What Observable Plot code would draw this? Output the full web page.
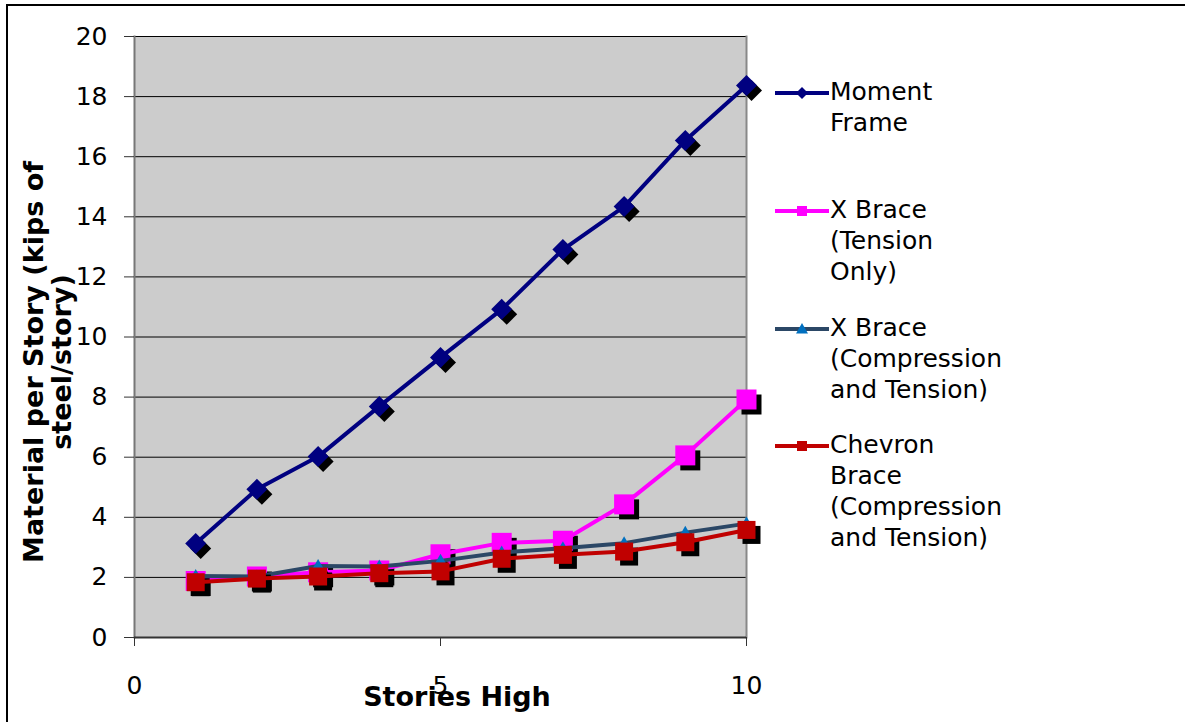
<!DOCTYPE html>
<html>
<head>
<meta charset="utf-8">
<script src="https://cdn.jsdelivr.net/npm/d3@7"></script>
<script src="https://cdn.jsdelivr.net/npm/@observablehq/plot@0.6"></script>
<style>
  html, body { margin: 0; padding: 0; background: #fff; }
  #wrap { position: relative; width: 1185px; height: 722px; overflow: hidden; font-family: "DejaVu Sans", Verdana, sans-serif; }
  #border { position: absolute; left: 6px; top: 4px; right: -10px; bottom: -10px; border-left: 2px solid #000; border-top: 2px solid #000; pointer-events: none; }
  #chart { position: absolute; left: 0; top: 0; }
  .xtitle { position: absolute; left: 457px; top: 681px; transform: translateX(-50%); font-weight: bold; font-size: 27px; white-space: nowrap; }
  .ytitle { position: absolute; left: 48px; top: 362px; transform: translate(-50%, -50%) rotate(-90deg); font-weight: bold; font-size: 27px; line-height: 28px; text-align: center; white-space: nowrap; }
  #legend { position: absolute; left: 775px; top: 0; }
  .item { position: absolute; left: 0; display: flex; align-items: flex-start; }
  .item svg { flex: none; margin-top: 2px; }
  .item div { margin-left: 1px; font-size: 25px; line-height: 31px; white-space: nowrap; }
</style>
</head>
<body>
<div id="wrap">
  <div id="chart"></div>
  <div class="ytitle">Material per Story (kips of<br>steel/story)</div>
  <div class="xtitle">Stories High</div>
  <div id="legend"></div>
  <div id="border"></div>
</div>
<script>
// Number of stories in each design
const stories = [1, 2, 3, 4, 5, 6, 7, 8, 9, 10];

// Steel weight per story (kips of steel / story) for each lateral system
const momentFrame       = [3.13, 4.93, 6.02, 7.69, 9.32, 10.92, 12.91, 14.34, 16.54, 18.37];
const xBraceTension     = [1.88, 2.03, 2.17, 2.23, 2.77, 3.15, 3.22, 4.43, 6.06, 7.92];
const xBraceCompTension = [2.05, 2.03, 2.38, 2.36, 2.55, 2.83, 2.97, 3.14, 3.49, 3.79];
const chevronBrace      = [1.84, 1.96, 2.03, 2.14, 2.20, 2.62, 2.75, 2.86, 3.17, 3.58];

// Axis ticks
const xTicks = [0, 5, 10];
const yTicks = [0, 2, 4, 6, 8, 10, 12, 14, 16, 18, 20];

// Legend wording (line-wrapped as displayed)
const seriesNames = [
  ["Moment", "Frame"],
  ["X Brace", "(Tension", "Only)"],
  ["X Brace", "(Compression", "and Tension)"],
  ["Chevron", "Brace", "(Compression", "and Tension)"]
];

// Marker shapes; Plot hands draw() an area of π·r², so r is recovered as the half-extent
const radius = size => Math.sqrt(size / Math.PI);
const diamondSym = { draw(c, size) { const r = radius(size); c.moveTo(0, -r); c.lineTo(r, 0); c.lineTo(0, r); c.lineTo(-r, 0); c.closePath(); } };
const squareSym  = { draw(c, size) { const r = radius(size); c.rect(-r, -r, 2 * r, 2 * r); } };
const triSym     = { draw(c, size) { const r = radius(size); c.moveTo(0, -r); c.lineTo(r, 0.75 * r); c.lineTo(-r, 0.75 * r); c.closePath(); } };

const series = [
  { values: momentFrame,       line: "#000080", fill: "#000080", symbol: diamondSym, r: 10.5, path: "M0,-6L6,0L0,6L-6,0Z" },
  { values: xBraceTension,     line: "#FF00FF", fill: "#FF00FF", symbol: squareSym,  r: 10,   path: "M-5,-5H5V5H-5Z" },
  { values: xBraceCompTension, line: "#2B4766", fill: "#0070C0", symbol: triSym,     r: 7,    path: "M0,-6L6,4.5L-6,4.5Z" },
  { values: chevronBrace,      line: "#C00000", fill: "#C00000", symbol: squareSym,  r: 9,    path: "M-5,-5H5V5H-5Z" }
];

// Each series: drop-shadow markers, then the connecting line, then the coloured markers
const seriesMarks = series.flatMap(s => {
  const rows = stories.map((st, j) => ({ x: st, y: s.values[j] }));
  return [
    Plot.dot(rows, { x: "x", y: "y", symbol: s.symbol, r: s.r, fill: "#000", dx: 5, dy: 5 }),
    Plot.line(rows, { x: "x", y: "y", stroke: s.line, strokeWidth: 4 }),
    Plot.dot(rows, { x: "x", y: "y", symbol: s.symbol, r: s.r, fill: s.fill })
  ];
});

const chart = Plot.plot({
  width: 1185,
  height: 722,
  marginLeft: 134,
  marginRight: 439,
  marginTop: 36,
  marginBottom: 85,
  style: { fontFamily: "DejaVu Sans, Verdana, sans-serif", fontSize: "25px", color: "#000", background: "transparent", overflow: "visible" },
  x: { domain: [0, 10] },
  y: { domain: [0, 20] },
  marks: [
    Plot.frame({ fill: "#CCCCCC", stroke: null }),
    Plot.gridY(yTicks.filter(d => d > 0), { stroke: "#000", strokeOpacity: 1, strokeWidth: 1 }),
    Plot.frame({ anchor: "left", stroke: "#777", strokeWidth: 2 }),
    Plot.frame({ anchor: "right", stroke: "#888", strokeWidth: 2 }),
    Plot.ruleY([0], { stroke: "#333", strokeWidth: 2 }),
    Plot.axisY(yTicks, { tickSize: 10, tickPadding: 17, label: null, fontSize: 25, stroke: "#333" }),
    Plot.axisX(xTicks, { tickSize: 9, tickPadding: 30, label: null, fontSize: 25, stroke: "#333" }),
    ...seriesMarks
  ]
});
document.getElementById("chart").appendChild(chart);

// Legend: a short line with a marker, followed by the wrapped series name
const legendTops = [76, 194, 312, 429];
const legend = d3.select("#legend");
series.forEach((s, i) => {
  const item = legend.append("div").attr("class", "item").style("top", legendTops[i] + "px");
  const svg = item.append("svg").attr("width", 54).attr("height", 30);
  svg.append("line").attr("x1", 0).attr("x2", 54).attr("y1", 15).attr("y2", 15)
    .attr("stroke", s.line).attr("stroke-width", 4);
  svg.append("path").attr("d", s.path).attr("transform", "translate(27,15)").attr("fill", s.fill);
  item.append("div").html(seriesNames[i].join("<br>"));
});
</script>
</body>
</html>
